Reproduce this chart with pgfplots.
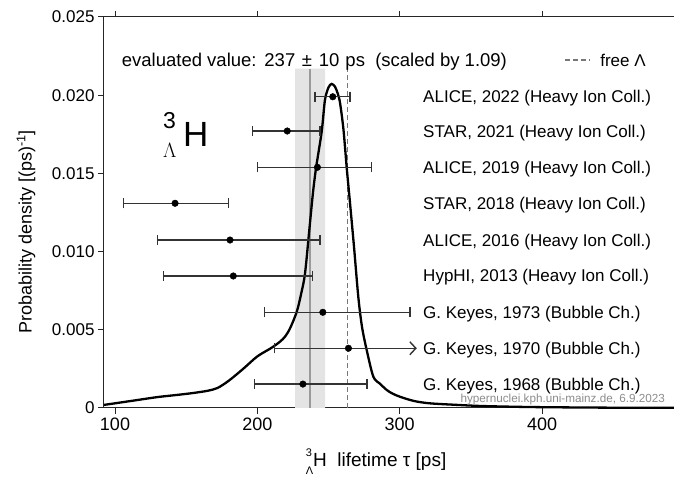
\documentclass[border=0pt]{standalone}
\usepackage{pgfplots}
\pgfplotsset{compat=1.18}
\usepackage{fontspec}
\setmainfont{Liberation Sans}
\usetikzlibrary{arrows.meta}
\definecolor{bandgray}{HTML}{E4E4E4}
\definecolor{midgray}{HTML}{9A9A9A}
\definecolor{dashgray}{HTML}{777777}
\definecolor{bargray}{HTML}{333333}
\begin{document}
\begin{tikzpicture}[font=\fontsize{17}{20}\selectfont]
\begin{axis}[
 name=ax,
 scale only axis, width=570pt, height=391pt,
 xmin=92.27, xmax=492.7, ymin=0, ymax=0.025,
 axis x line=box, axis y line=left,
 axis line style={-, line width=1pt, black!85},
 x axis line style={-}, y axis line style={-},
 tick align=outside,
 xtick={100,200,300,400}, ytick={0,0.005,0.01,0.015,0.02,0.025},
 yticklabels={0,0.005,0.010,0.015,0.020,0.025},
 minor tick num=0,
 major tick length=6pt,
 tick style={line width=1pt, black!85},
 every x tick label/.append style={font=\fontsize{18}{20}\selectfont},
 every y tick label/.append style={font=\fontsize{17}{20}\selectfont},
 /pgf/number format/assume math mode=true,
 clip=false,
 scaled y ticks=false,
]
% band
\addplot[fill=bandgray, draw=none] coordinates {(226.5,0) (226.5,0.0217) (247.6,0.0217) (247.6,0)} \closedcycle;
\addplot[midgray, line width=1.5pt] coordinates {(237,0) (237,0.0217)};
\addplot[dashgray, line width=1.6pt, dash pattern=on 5pt off 3pt] coordinates {(263.2,0) (263.2,0.0217)};
% curve
\addplot[black, line width=2.3pt, smooth, tension=0.5] coordinates {
(92.3,0.00020) (100,0.00030) (115,0.00050) (130,0.00070) (145,0.00085) (155,0.00096)
(165,0.00110) (172,0.00128) (180,0.00175) (190,0.00250) (200,0.00330) (210,0.00385)
(216,0.00425) (219.4,0.00456) (223,0.00510) (227.7,0.00616) (231,0.00740) (233.5,0.00861)
(236.5,0.01138) (239,0.01370) (241.2,0.01533) (245.2,0.01767) (247.5,0.01970) (250,0.02050)
(252.2,0.02072) (254.5,0.02055) (256.5,0.02010) (258.1,0.01950) (260.5,0.01780) (262.8,0.01534)
(265,0.01320) (268,0.01020) (270.9,0.00712) (273.5,0.00520) (276.8,0.00371) (281.5,0.00200)
(286.2,0.00155) (290.9,0.00115) (295,0.00092) (300.2,0.00072) (310,0.00045) (321,0.00030)
(340,0.00020) (356.5,0.00013) (380,0.00008) (403,0.00005) (450,0.00002) (492.7,0.00001)};
% measurements
\addplot[only marks, mark=*, mark size=3.3pt, black,
 error bars/.cd, x dir=both, x explicit, error mark=|,
 error bar style={line width=1.4pt, bargray},
 error mark options={mark size=5pt, line width=1.4pt, bargray}]
 coordinates {
 (253,0.01990) -= (12.5,0) += (12,0)
 (221,0.01771) -= (24.3,0) += (23,0)
 (242.2,0.01539) -= (42,0) += (37.8,0)
 (142.2,0.01309) -= (36.3,0) += (37.4,0)
 (180.8,0.01074) -= (51.1,0) += (63.3,0)
 (183.1,0.00844) -= (49.2,0) += (55.8,0)
 (246,0.00612) -= (41.1,0) += (61.3,0)
 (232,0.00153) -= (34.1,0) += (44.9,0)
 };
\addplot[only marks, mark=*, mark size=3.3pt, black,
 error bars/.cd, x dir=minus, x explicit, error mark=|,
 error bar style={line width=1.4pt, bargray},
 error mark options={mark size=5pt, line width=1.4pt, bargray}]
 coordinates {(264,0.00382) -= (52.1,0) += (0,0)};
\addplot[bargray, line width=1.4pt, -{Straight Barb[length=6pt,width=13pt]}] coordinates {(264,0.00382) (312,0.00382)};
% legend line
\addplot[dashgray, line width=1.6pt, dash pattern=on 5pt off 3pt] coordinates {(416.2,0.02225) (433.7,0.02225)};
% labels
\node[anchor=base west, yshift=-6.5pt, inner sep=0pt, font=\fontsize{18.5}{20}\selectfont] at (axis cs:104.7,0.02225)
 {evaluated value:\hspace{1pt} 237\hspace{1.5pt} ±\hspace{1.5pt} 10\hspace{1pt} ps\ \ (scaled by 1.09)};
\begin{scope}[every node/.style={anchor=base west, yshift=-6pt, inner sep=0pt}]
\node at (axis cs:440.8,0.02225) {free Λ};
\node at (axis cs:316.4,0.01990) {ALICE, 2022 (Heavy Ion Coll.)};
\node at (axis cs:316.4,0.01771) {STAR, 2021 (Heavy Ion Coll.)};
\node at (axis cs:316.4,0.01539) {ALICE, 2019 (Heavy Ion Coll.)};
\node at (axis cs:316.4,0.01309) {STAR, 2018 (Heavy Ion Coll.)};
\node at (axis cs:316.4,0.01074) {ALICE, 2016 (Heavy Ion Coll.)};
\node at (axis cs:316.4,0.00844) {HypHI, 2013 (Heavy Ion Coll.)};
\node at (axis cs:316.4,0.00612) {G. Keyes, 1973 (Bubble Ch.)};
\node at (axis cs:316.4,0.00382) {G. Keyes, 1970 (Bubble Ch.)};
\node at (axis cs:316.4,0.00153) {G. Keyes, 1968 (Bubble Ch.)};
\end{scope}
\node[anchor=base east, inner sep=0pt, text=black!45, font=\fontsize{11.7}{13}\selectfont] at (axis cs:486.4,0.00038) {hypernuclei.kph.uni-mainz.de, 6.9.2023};
% big label
\node[anchor=base west, inner sep=0pt, font=\fontsize{35}{40}\selectfont] at (axis cs:147.8,0.01669) {H};
\node[anchor=base west, inner sep=0pt, font=\fontsize{23}{26}\selectfont] at (axis cs:133.7,0.01790) {3};
\node[anchor=base west, inner sep=0pt, font=\fontsize{20}{22}\selectfont] at (axis cs:133.7,0.01600) {$\Lambda$};
% axis labels
\node[anchor=base, inner sep=0pt, font=\fontsize{19}{22}\selectfont] at (axis cs:283.4,-0.00377)
 {\makebox[0pt][l]{\raisebox{1.05ex}{\fontsize{11}{12}\selectfont 3}}\raisebox{-0.75ex}{\fontsize{11}{12}\selectfont Λ}H\ \ lifetime τ [ps]};
\node[rotate=90, anchor=center, inner sep=0pt, font=\fontsize{18}{22}\selectfont] at (axis cs:37.5,0.01125)
 {Probability density [(ps)\textsuperscript{-1}]};
\end{axis}
\pgfresetboundingbox
\path ([xshift=-104pt,yshift=-70pt]ax.south west) rectangle ([yshift=17pt]ax.north east);
\end{tikzpicture}
\end{document}
